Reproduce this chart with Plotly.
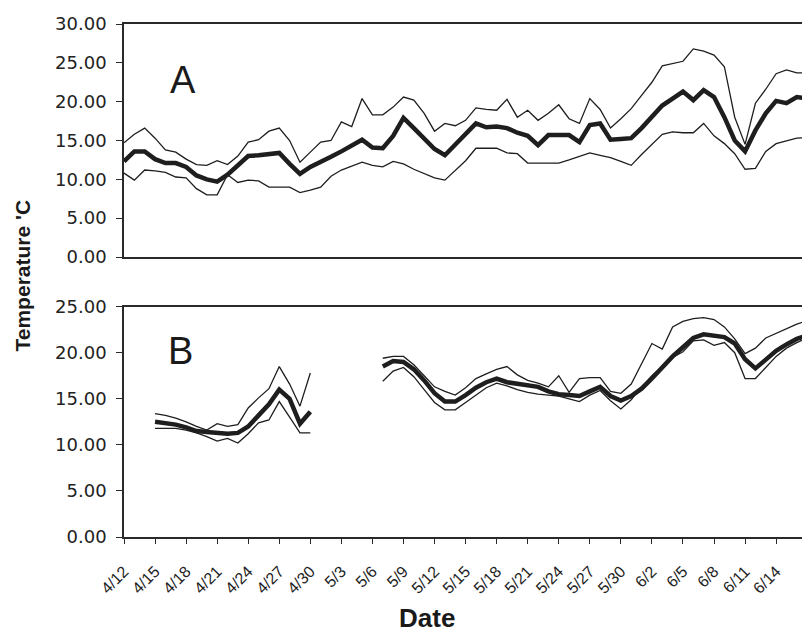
import plotly.graph_objects as go

# Day index 0 = 4/12; daily water temperature (mean, max, min) in two panels
days = list(range(67))
tick_days = list(range(0, 64, 3))
tick_labels = ["4/12", "4/15", "4/18", "4/21", "4/24", "4/27", "4/30", "5/3", "5/6", "5/9",
               "5/12", "5/15", "5/18", "5/21", "5/24", "5/27", "5/30", "6/2", "6/5", "6/8",
               "6/11", "6/14"]

a_mean = [12.3, 13.6, 13.6, 12.6, 12.1, 12.1, 11.6, 10.5, 10.0, 9.7,
          10.6, 11.8, 13.0, 13.1, 13.2, 13.4, 12.0, 10.7, 11.6, 12.2,
          12.9, 13.6, 14.3, 15.1, 14.1, 14.0, 15.6, 17.9, 16.6, 15.2,
          13.9, 13.1, 14.4, 15.8, 17.2, 16.7, 16.8, 16.6, 16.0, 15.6,
          14.4, 15.7, 15.7, 15.7, 14.8, 17.0, 17.2, 15.1, 15.2, 15.3,
          16.6, 18.0, 19.5, 20.4, 21.3, 20.2, 21.5, 20.6, 18.0, 15.0,
          13.6, 16.3, 18.5, 20.1, 19.8, 20.6, 20.4]
a_max = [14.7, 15.8, 16.6, 15.3, 13.8, 13.5, 12.6, 11.9, 11.8, 12.4,
         11.9, 13.0, 14.8, 15.1, 16.2, 16.6, 15.0, 12.2, 13.5, 14.8,
         15.0, 17.4, 16.8, 20.4, 18.3, 18.3, 19.3, 20.6, 20.2, 18.5,
         16.2, 17.2, 16.9, 17.6, 19.2, 19.0, 18.9, 20.3, 18.0, 18.9,
         17.6, 18.5, 19.6, 17.8, 17.2, 20.4, 19.0, 16.6, 17.8, 19.1,
         20.8, 22.5, 24.6, 24.9, 25.2, 26.8, 26.5, 26.0, 24.5, 18.0,
         14.5, 19.8, 21.6, 23.6, 24.1, 23.7, 23.7]
a_min = [10.8, 9.9, 11.2, 11.1, 10.9, 10.3, 10.2, 8.8, 8.0, 8.0,
         10.6, 9.6, 9.9, 9.8, 9.0, 9.0, 9.0, 8.3, 8.6, 9.0,
         10.4, 11.2, 11.7, 12.2, 11.8, 11.6, 12.3, 12.0, 11.3, 10.7,
         10.2, 9.9, 11.1, 12.4, 14.0, 14.0, 14.0, 13.4, 13.3, 12.1,
         12.1, 12.1, 12.1, 12.5, 12.9, 13.4, 13.1, 12.8, 12.3, 11.8,
         13.2, 14.5, 15.8, 16.1, 16.0, 16.0, 17.2, 15.6, 14.6, 13.3,
         11.3, 11.4, 13.6, 14.6, 15.0, 15.3, 15.4]

N = None
b_mean = [N, N, N, 12.5, 12.4, 12.2, 11.9, 11.5, 11.4, 11.3,
          11.2, 11.3, 12.0, 13.2, 14.4, 16.0, 15.0, 12.3, 13.6, N,
          N, N, N, N, N, 18.5, 19.1, 19.0, 18.2, 17.0,
          15.6, 14.7, 14.7, 15.4, 16.2, 16.8, 17.2, 16.8, 16.6, 16.4,
          16.3, 15.8, 15.5, 15.4, 15.3, 15.8, 16.3, 15.3, 14.8, 15.3,
          16.1, 17.2, 18.4, 19.6, 20.6, 21.6, 22.0, 21.8, 21.7, 21.0,
          19.3, 18.3, 19.3, 20.2, 20.9, 21.5, 21.9]
b_max = [N, N, N, 13.4, 13.2, 12.9, 12.5, 12.0, 11.6, 12.3,
         12.0, 12.2, 14.0, 15.1, 16.1, 18.5, 16.6, 14.2, 17.8, N,
         N, N, N, N, N, 19.4, 19.6, 19.6, 18.7, 17.5,
         16.3, 15.8, 15.4, 16.2, 17.2, 17.7, 18.2, 18.5, 17.6, 17.0,
         16.7, 16.3, 17.5, 15.7, 17.2, 17.3, 17.3, 15.8, 15.6, 16.6,
         18.8, 21.0, 20.4, 22.8, 23.4, 23.7, 23.8, 23.6, 22.8, 21.5,
         19.9, 20.5, 21.6, 22.1, 22.6, 23.1, 23.5]
b_min = [N, N, N, 11.8, 11.8, 11.8, 11.6, 11.3, 10.9, 10.4,
         10.7, 10.2, 11.2, 12.4, 12.7, 14.7, 13.0, 11.3, 11.3, N,
         N, N, N, N, N, 16.9, 18.0, 18.4, 17.4, 16.0,
         14.6, 13.8, 13.8, 14.6, 15.4, 16.2, 16.7, 16.4, 16.0, 15.7,
         15.5, 15.4, 15.3, 15.0, 14.7, 15.4, 15.9, 14.8, 13.9, 14.9,
         16.3, 17.5, 18.5, 19.5, 20.1, 21.3, 21.4, 20.8, 21.1, 20.0,
         17.2, 17.2, 18.4, 19.6, 20.5, 21.1, 21.6]

INK = "#1e1e1e"
fig = go.Figure()

def add_panel(mean, hi, lo, xa, ya):
    for series, w in ((hi, 1.3), (lo, 1.3), (mean, 4.5)):
        fig.add_trace(go.Scatter(x=days, y=series, mode="lines", xaxis=xa, yaxis=ya,
                                 line=dict(color=INK, width=w), connectgaps=False,
                                 showlegend=False, hoverinfo="skip"))

add_panel(a_mean, a_max, a_min, "x", "y")
add_panel(b_mean, b_max, b_min, "x2", "y2")

ytick_font = dict(family="DejaVu Sans", size=18, color="#222")
common_y = dict(showline=True, linecolor="#2a2a2a", linewidth=1.6, ticks="outside",
                ticklen=6, tickwidth=1.3, tickcolor="#2a2a2a", showgrid=False,
                zeroline=False, tickformat=".2f", tickfont=ytick_font,
                ticklabelstandoff=6)

def label(text, x, y, size, angle=0):
    return dict(text=text, x=x, y=y, xref="paper", yref="paper", showarrow=False,
                xanchor="center", yanchor="middle", textangle=angle,
                font=dict(family="Liberation Sans", size=size, color="#1a1a1a"))

fig.update_layout(
    width=802, height=635,
    margin=dict(l=124, r=0, t=24, b=98),
    paper_bgcolor="white", plot_bgcolor="white",
    xaxis=dict(domain=[0, 1], anchor="y", range=[0, 65.5], showline=True, mirror=True,
               linecolor="#2a2a2a", linewidth=2, showticklabels=False, ticks="",
               showgrid=False, zeroline=False),
    yaxis=dict(domain=[0.5458, 1], anchor="x", range=[0, 30], dtick=5, **common_y),
    xaxis2=dict(domain=[0, 1], anchor="y2", range=[0, 65.5], showline=True, mirror=True,
                linecolor="#2a2a2a", linewidth=1.8, tickmode="array",
                tickvals=tick_days, ticktext=tick_labels, tickangle=-45,
                ticks="outside", ticklen=5, tickwidth=1.3, tickcolor="#2a2a2a",
                ticklabelstandoff=12,
                tickfont=dict(family="Liberation Sans", size=16, color="#222"),
                showgrid=False, zeroline=False),
    yaxis2=dict(domain=[0, 0.449], anchor="x2", range=[0, 25], dtick=5, **common_y),
    annotations=[
        label("A", 0.087, 0.89, 38),
        label("B", 0.083, 0.3626, 38),
        label("<b>Temperature 'C</b>", -0.149, 0.5097, 21, angle=-90),
        label("<b>Date</b>", 0.447, -0.158, 26),
    ],
)

fig.write_html("out.html")
